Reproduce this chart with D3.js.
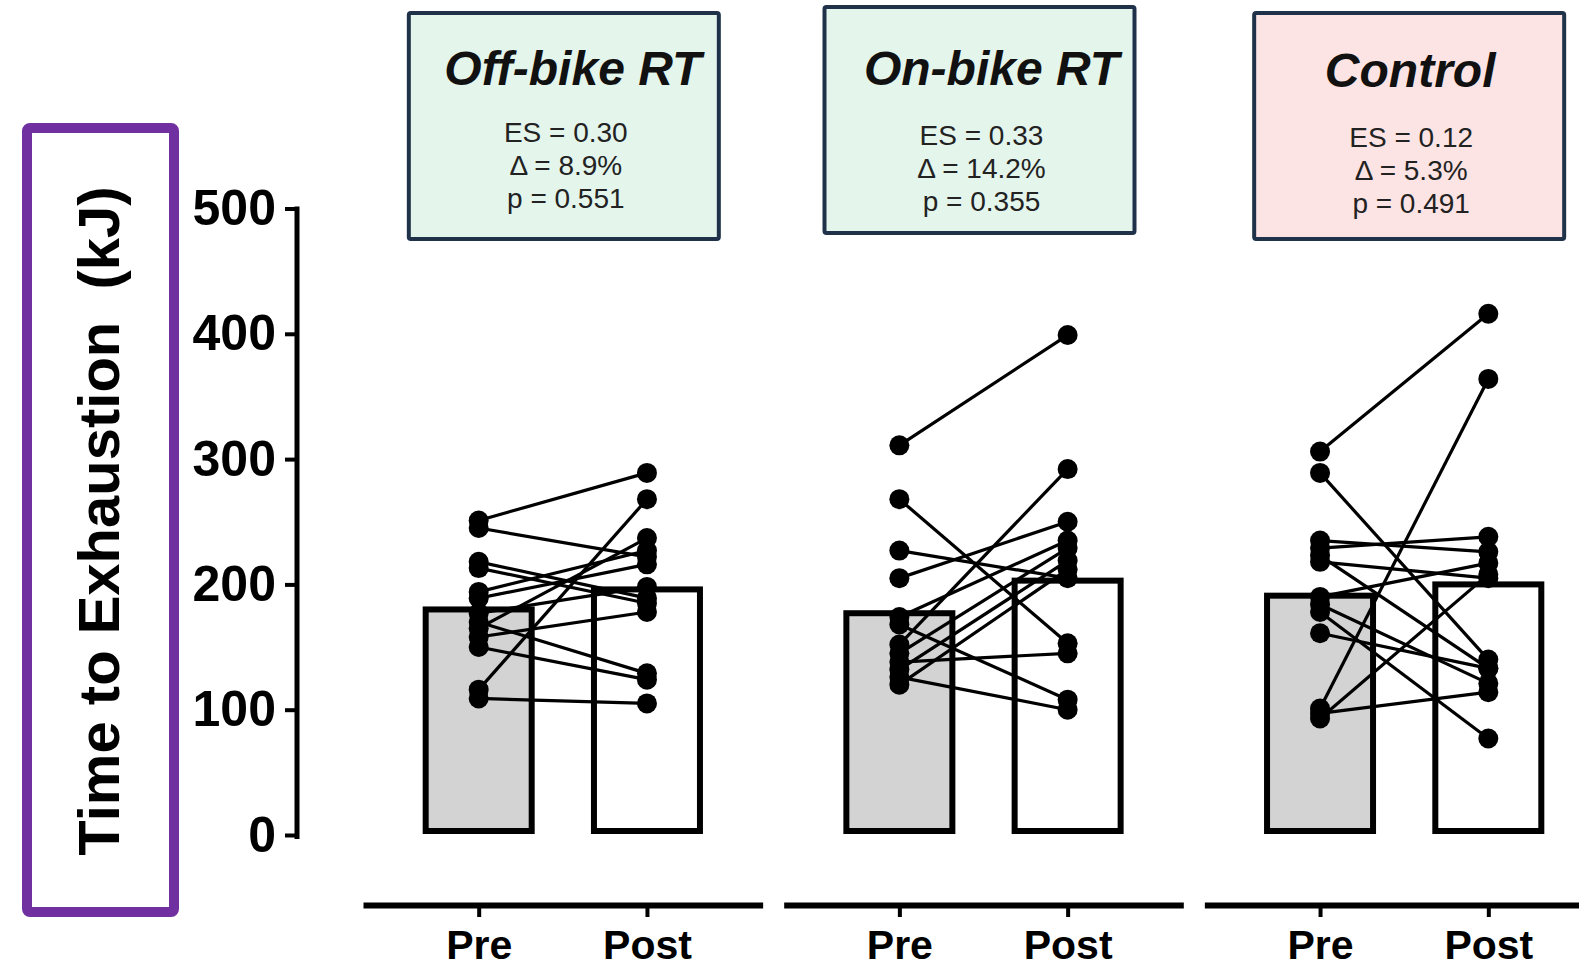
<!DOCTYPE html>
<html>
<head>
<meta charset="utf-8">
<script src="https://cdn.jsdelivr.net/npm/d3@7"></script>
<style>
  html, body { margin: 0; padding: 0; background: #fff; }
  svg { display: block; font-family: "Liberation Sans", Arial, sans-serif; }
</style>
</head>
<body>
<div id="chart"></div>
<script>
// groups and time points
const groups = ["Off-bike RT", "On-bike RT", "Control"];
const times = ["Pre", "Post"];

// individual values (kJ), paired by index
const offBikePre  = [251, 245, 218, 213, 194, 189, 177, 165, 170, 150, 116, 109, 158];
const offBikePost = [289, 222, 189, 185, 227, 216, 198, 237, 129, 124, 268, 105, 178];
const onBikePre   = [311, 268, 227, 205, 174, 168, 152, 145, 138, 132, 126, 120];
const onBikePost  = [399, 153, 205, 250, 235, 108, 292, 229, 145, 219, 100, 212];
const controlPre  = [306, 289, 235, 229, 223, 218, 190, 184, 178, 161, 101, 93, 97];
const controlPost = [416, 140, 226, 238, 133, 205, 217, 121, 77, 133, 364, 208, 114];

// group means shown as bars
const preMeans  = [180, 177, 191];
const postMeans = [196, 203, 200];

// annotation texts
const esValues    = ["0.30", "0.33", "0.12"];
const deltaValues = ["8.9%", "14.2%", "5.3%"];
const pValues     = ["0.551", "0.355", "0.491"];
const boxFills    = ["#E4F5EC", "#E4F5EC", "#FCE4E4"];

const yTicks = [0, 100, 200, 300, 400, 500];

const width = 1579, height = 970;

const svg = d3.select("#chart").append("svg")
  .attr("width", width)
  .attr("height", height);

const yScale = d3.scaleLinear().domain([0, 500]).range([835, 208.5]);

const groupScale = d3.scaleBand()
  .domain(groups)
  .range([363, 1604])
  .paddingInner(0.05)
  .paddingOuter(0);

const timeScale = d3.scalePoint()
  .domain(times)
  .range([0, groupScale.bandwidth()])
  .padding(0.6875);

const series = [
  { group: groups[0], pre: offBikePre, post: offBikePost },
  { group: groups[1], pre: onBikePre, post: onBikePost },
  { group: groups[2], pre: controlPre, post: controlPost },
];

const barWidth = 106;

// Y axis
const yAxis = svg.append("g")
  .attr("transform", "translate(297,0)")
  .call(d3.axisLeft(yScale).tickValues(yTicks).tickSize(12).tickSizeOuter(0).tickPadding(9));
yAxis.select(".domain")
  .attr("stroke", "#000")
  .attr("stroke-width", 5)
  .attr("d", `M0,${yScale(500) - 2}V${yScale(0) + 4}`);
yAxis.selectAll(".tick line").attr("stroke", "#000").attr("stroke-width", 4);
yAxis.selectAll(".tick text")
  .attr("fill", "#000")
  .style("font-size", "50px")
  .style("font-weight", "bold");

// Y title in purple frame
svg.append("rect")
  .attr("x", 27).attr("y", 128)
  .attr("width", 147).attr("height", 784)
  .attr("rx", 3)
  .attr("fill", "#fff")
  .attr("stroke", "#7030A0")
  .attr("stroke-width", 10);
svg.append("text")
  .attr("transform", "translate(98,521) rotate(-90)")
  .attr("text-anchor", "middle")
  .attr("dominant-baseline", "central")
  .style("font-size", "58px")
  .style("font-weight", "bold")
  .style("white-space", "pre")
  .attr("xml:space", "preserve")
  .text("Time to Exhaustion  (kJ)");

// per group
series.forEach((s, gi) => {
  const g = svg.append("g").attr("transform", `translate(${groupScale(s.group)},0)`);

  // bars
  const means = [preMeans[gi], postMeans[gi]];
  g.selectAll(".bar")
    .data(times)
    .join("rect")
    .attr("class", "bar")
    .attr("x", (d) => timeScale(d) - barWidth / 2)
    .attr("y", (d, i) => yScale(means[i]))
    .attr("width", barWidth)
    .attr("height", (d, i) => yScale(0) - 4 - yScale(means[i]))
    .attr("fill", (d) => (d === "Pre" ? "#D3D3D3" : "#fff"))
    .attr("stroke", "#000")
    .attr("stroke-width", 6);

  // paired lines
  const pairs = s.pre.map((v, i) => ({ pre: v, post: s.post[i] }));
  g.selectAll(".pair")
    .data(pairs)
    .join("line")
    .attr("class", "pair")
    .attr("x1", timeScale("Pre"))
    .attr("x2", timeScale("Post"))
    .attr("y1", (d) => yScale(d.pre))
    .attr("y2", (d) => yScale(d.post))
    .attr("stroke", "#000")
    .attr("stroke-width", 3.2);

  // dots
  const dots = pairs.flatMap((d) => [
    { t: "Pre", v: d.pre },
    { t: "Post", v: d.post },
  ]);
  g.selectAll(".dot")
    .data(dots)
    .join("circle")
    .attr("class", "dot")
    .attr("cx", (d) => timeScale(d.t))
    .attr("cy", (d) => yScale(d.v))
    .attr("r", 10)
    .attr("fill", "#000");

  // x axis segment
  const xAxis = g.append("g")
    .attr("transform", "translate(0,905)")
    .call(d3.axisBottom(timeScale).tickSize(12).tickSizeOuter(0).tickPadding(13));
  xAxis.select(".domain").attr("stroke", "#000").attr("stroke-width", 6);
  xAxis.selectAll(".tick line").attr("stroke", "#000").attr("stroke-width", 4);
  xAxis.selectAll(".tick text")
    .attr("fill", "#000")
    .style("font-size", "41px")
    .style("font-weight", "bold");
});

// annotation boxes
const boxTop = [13, 7, 13];
const boxShift = [1, -4, 5];
const titleShift = [9, 12, 1];
const titleY = [68, 68, 70];
const statsY = [132, 135, 137];

groups.forEach((name, i) => {
  const cx = groupScale(name) + groupScale.bandwidth() / 2 + boxShift[i];
  svg.append("rect")
    .attr("x", cx - 155)
    .attr("y", boxTop[i])
    .attr("width", 310)
    .attr("height", 226)
    .attr("rx", 2)
    .attr("fill", boxFills[i])
    .attr("stroke", "#1F3249")
    .attr("stroke-width", 4);

  svg.append("text")
    .attr("x", cx + titleShift[i])
    .attr("y", titleY[i])
    .attr("text-anchor", "middle")
    .attr("dominant-baseline", "central")
    .style("font-size", "48px")
    .style("font-weight", "bold")
    .style("font-style", "italic")
    .attr("fill", "#111")
    .text(name);

  const lines = [`ES = ${esValues[i]}`, `\u0394 = ${deltaValues[i]}`, `p = ${pValues[i]}`];
  svg.selectAll(`.stat${i}`)
    .data(lines)
    .join("text")
    .attr("class", `stat${i}`)
    .attr("x", cx + 2)
    .attr("y", (d, k) => statsY[i] + k * 33)
    .attr("text-anchor", "middle")
    .attr("dominant-baseline", "central")
    .style("font-size", "28px")
    .attr("fill", "#222")
    .text((d) => d);
});
</script>
</body>
</html>
